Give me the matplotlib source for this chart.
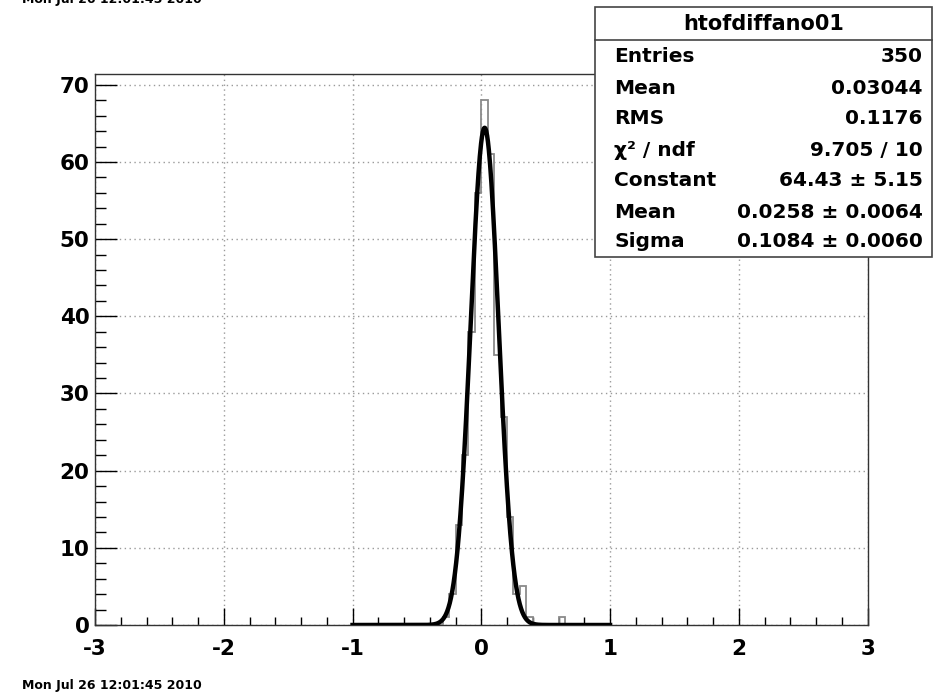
import numpy as np
import matplotlib
matplotlib.use("Agg")
import matplotlib.pyplot as plt
from matplotlib.patches import Rectangle
from matplotlib.lines import Line2D
from matplotlib.ticker import MultipleLocator

plt.rcParams['font.family'] = ['DejaVu Sans']
plt.rcParams['font.weight'] = 'bold'
plt.rcParams['axes.unicode_minus'] = False

# ---------------- data ----------------
hist_name = "htofdiffano01"
bin_low, bin_high = -1.0, 1.0
counts = [0, 0, 0, 0, 0, 0, 0, 0, 0, 0,
          0, 0, 0, 0, 1, 4, 13, 22, 38, 56,
          68, 61, 35, 27, 14, 4, 5, 1, 0, 0,
          0, 0, 1, 0, 0, 0, 0, 0, 0, 0]
fit_constant = 64.43
fit_mean = 0.0258
fit_sigma = 0.1084
fit_range = (-1.0, 1.0)

stat_labels = ["Entries", "Mean", "RMS", "\u03c7\u00b2 / ndf", "Constant", "Mean", "Sigma"]
stat_values = ["350", "0.03044", "0.1176", "9.705 / 10",
               "64.43 \u00b1 5.15", "0.0258 \u00b1 0.0064", "0.1084 \u00b1 0.0060"]
x_ticks = [-3, -2, -1, 0, 1, 2, 3]
y_ticks = [0, 10, 20, 30, 40, 50, 60, 70]
date_text = "Mon Jul 26 12:01:45 2010"

# ---------------- figure ----------------
W, H = 934, 696
fig = plt.figure(figsize=(W / 100, H / 100), dpi=100)
ax = fig.add_axes([95 / W, 1 - 625 / H, (867.6 - 95) / W, (625 - 74) / H])

edges = np.linspace(bin_low, bin_high, len(counts) + 1)
ax.stairs(counts, edges, color='#8a8a8a', lw=1.3, zorder=3)

xs = np.linspace(fit_range[0], fit_range[1], 600)
ys = fit_constant * np.exp(-0.5 * ((xs - fit_mean) / fit_sigma) ** 2)
ax.plot(xs, ys, color='black', lw=3.2, zorder=4)

ax.set_xlim(-3, 3)
ax.set_ylim(0, max(counts) * 1.05)
ax.set_xticks(x_ticks)
ax.set_xticklabels([str(t) for t in x_ticks])
ax.set_yticks(y_ticks)
ax.set_yticklabels([str(t) for t in y_ticks])
ax.xaxis.set_minor_locator(MultipleLocator(0.2))
ax.yaxis.set_minor_locator(MultipleLocator(2))
ax.tick_params(axis='x', which='major', direction='in', length=12, width=1,
               labelsize=15.5, pad=10, top=False)
ax.tick_params(axis='x', which='minor', direction='in', length=6, width=1, top=False)
ax.tick_params(axis='y', which='major', direction='in', length=16, width=1,
               labelsize=15.5, pad=4, right=False)
ax.tick_params(axis='y', which='minor', direction='in', length=8, width=1, right=False)
for lbl in ax.get_xticklabels() + ax.get_yticklabels():
    lbl.set_fontweight('bold')
ax.grid(True, which='major', ls=(0, (1, 2.5)), color='#9a9a9a', lw=1)
for s in ax.spines.values():
    s.set_color('#333333')
    s.set_linewidth(1)

# ---------------- stat box ----------------
bx0, bx1 = 595 / W, 932 / W
by_top, by_bot = 1 - 7 / H, 1 - 257 / H
fig.patches.append(Rectangle((bx0, by_bot), bx1 - bx0, by_top - by_bot,
                             transform=fig.transFigure, facecolor='white',
                             edgecolor='#444444', lw=1.2, zorder=10))
sep_y = 1 - 40 / H
fig.lines.append(Line2D([bx0, bx1], [sep_y, sep_y], transform=fig.transFigure,
                        color='#444444', lw=1.2, zorder=11))
fig.text((bx0 + bx1) / 2, 1 - 24 / H, hist_name, ha='center', va='center',
         fontsize=15, fontweight='bold', zorder=12)
row_y = [57, 88, 118, 150, 180, 212, 242]
for lab, val, ry in zip(stat_labels, stat_values, row_y):
    fig.text(614 / W, 1 - ry / H, lab, ha='left', va='center',
             fontsize=14.5, fontweight='bold', zorder=12)
    fig.text(923 / W, 1 - ry / H, val, ha='right', va='center',
             fontsize=14.5, fontweight='bold', zorder=12)

# ---------------- date stamps ----------------
fig.text(22 / W, 1 - 686 / H, date_text, ha='left', va='center',
         fontsize=9, fontweight='bold')
fig.text(22 / W, 1 - 3 / H, date_text, ha='left', va='baseline',
         fontsize=9, fontweight='bold')

fig.savefig("out.png", dpi=100)
